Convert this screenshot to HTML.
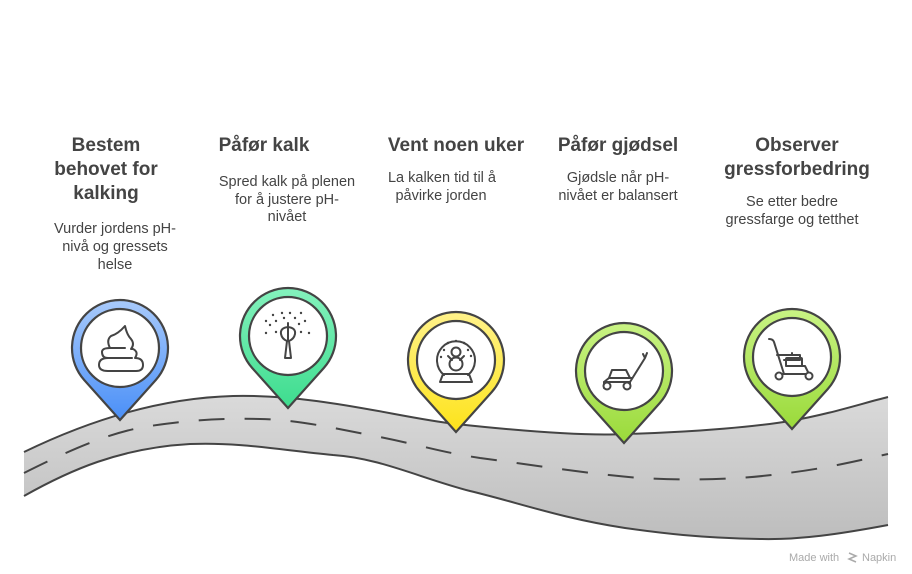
<!DOCTYPE html>
<html><head><meta charset="utf-8"><style>
html,body{margin:0;padding:0;background:#fff;}
svg{display:block}
text{font-family:"Liberation Sans",Arial,sans-serif;fill:#444}
.t{font-size:19px;font-weight:bold}
.d{font-size:14.5px}
</style></head><body>
<svg width="912" height="574" viewBox="0 0 912 574" xmlns="http://www.w3.org/2000/svg">
<defs>
<linearGradient id="road" x1="0" y1="0" x2="0" y2="1"><stop offset="0" stop-color="#dadada"/><stop offset="1" stop-color="#bdbdbd"/></linearGradient>
<linearGradient id="gb" x1="0" y1="0" x2="0" y2="1"><stop offset="0" stop-color="#a8cafb"/><stop offset="1" stop-color="#4a8ff7"/></linearGradient>
<linearGradient id="gg" x1="0" y1="0" x2="0" y2="1"><stop offset="0" stop-color="#84f2bd"/><stop offset="1" stop-color="#3ddc8e"/></linearGradient>
<linearGradient id="gy" x1="0" y1="0" x2="0" y2="1"><stop offset="0" stop-color="#fff28a"/><stop offset="1" stop-color="#fde31a"/></linearGradient>
<linearGradient id="gl" x1="0" y1="0" x2="0" y2="1"><stop offset="0" stop-color="#c9f384"/><stop offset="1" stop-color="#9ada3a"/></linearGradient>
<path id="pin" d="M0,72 L-35.8,32 A48,48 0 1 1 35.8,32 Z"/>
</defs>
<path d="M24,452 C90,420 160,398 233,396 C320,394 400,418 456,424 C530,432 590,436 625,434 C700,432 760,426 790,421 C830,414 860,404 888,397 L888,525 C840,534 800,540 760,539 C700,538 660,533 625,528 C560,518 520,503 470,491 C420,478 380,458 333,455 C280,450 240,442 190,444 C120,448 70,470 24,496 Z" fill="url(#road)"/>
<path d="M24,452 C90,420 160,398 233,396 C320,394 400,418 456,424 C530,432 590,436 625,434 C700,432 760,426 790,421 C830,414 860,404 888,397" fill="none" stroke="#444" stroke-width="2"/>
<path d="M24,496 C70,470 120,448 190,444 C240,442 280,450 333,455 C380,458 420,478 470,491 C520,503 560,518 625,528 C660,533 700,538 760,539 C800,540 840,534 888,525" fill="none" stroke="#444" stroke-width="2"/>
<path d="M24,473 C70,450 110,432 150,426 C190,420 220,418 260,419 C300,420 333,428 380,437 C420,445 440,452 480,458 C540,466 590,474 640,478 C700,481 740,479 780,474 C830,468 860,460 888,454" fill="none" stroke="#444" stroke-width="2" stroke-dasharray="26,20"/>
<g stroke="#444" stroke-width="2.2">
<use href="#pin" transform="translate(120,348)" fill="url(#gb)"/>
<circle cx="120" cy="348" r="39" fill="#fff"/>
<use href="#pin" transform="translate(288,336)" fill="url(#gg)"/>
<circle cx="288" cy="336" r="39" fill="#fff"/>
<use href="#pin" transform="translate(456,360)" fill="url(#gy)"/>
<circle cx="456" cy="360" r="39" fill="#fff"/>
<use href="#pin" transform="translate(624,371)" fill="url(#gl)"/>
<circle cx="624" cy="371" r="39" fill="#fff"/>
<use href="#pin" transform="translate(792,357)" fill="url(#gl)"/>
<circle cx="792" cy="357" r="39" fill="#fff"/>
</g>
<g fill="none" stroke="#444" stroke-width="2" stroke-linecap="round" stroke-linejoin="round">
<path d="M108,371 L136,371 Q143,371 143,365 Q143,358 135,358 Q139,352 133,349 L131,349 Q135,344 131,339 Q127,335 125,326 Q118,334 111,336 Q106,340 110,348 Q102,348 102,352 Q102,358 108,358 Q99,358 99,365 Q99,371 108,371 Z"/>
<path d="M110,348 L125,348 M108,358 L132,358"/>
<path d="M288,327 Q280,328 281,334 Q282,339 287,341 L289,341 Q294,339 295,334 Q296,328 288,327 Z M288,323 L288,341 M287,341 L285,358 L291,358 L289,341"/>
<g fill="#444" stroke="none">
<circle cx="273" cy="315" r="1.2"/><circle cx="282" cy="313" r="1.2"/><circle cx="290" cy="313" r="1.2"/><circle cx="301" cy="313" r="1.2"/>
<circle cx="266" cy="321" r="1.2"/><circle cx="276" cy="321" r="1.2"/><circle cx="284" cy="318" r="1.2"/><circle cx="295" cy="318" r="1.2"/><circle cx="305" cy="321" r="1.2"/>
<circle cx="270" cy="325" r="1.2"/><circle cx="299" cy="324" r="1.2"/><circle cx="266" cy="333" r="1.2"/><circle cx="276" cy="332" r="1.2"/><circle cx="301" cy="332" r="1.2"/><circle cx="309" cy="333" r="1.2"/>
</g>
<path d="M444,375 A19,19 0 1 1 468,375 M440,382 L443,374 L469,374 L472,382 Z"/>
<circle cx="456" cy="352" r="4.5"/><circle cx="456" cy="364" r="6.5"/><path d="M448,356 L452,360 M464,356 L460,360"/>
<g fill="#444" stroke="none"><circle cx="448" cy="343" r="1.2"/><circle cx="456" cy="341" r="1.2"/><circle cx="464" cy="343" r="1.2"/><circle cx="444" cy="350" r="1.2"/><circle cx="468" cy="350" r="1.2"/><circle cx="441" cy="357" r="1.2"/><circle cx="471" cy="356" r="1.2"/></g>
<path d="M609,378 L612,370 L626,370 L630,378 Z M604,388 L604,382 L630,382 L630,388 M630,382 L645,358 M643,354 L645,358 L647,353"/>
<path d="M604,382 L609,378 L632,378"/>
<circle cx="607" cy="386" r="3.5" fill="#fff"/><circle cx="627" cy="386" r="3.5" fill="#fff"/>
<path d="M769,339 Q773,339 774,342 L784,374 M777,355 L786,355 L785,355 M784,360 L800,360 L800,355 L786,355 M792,355 L792,353 M779,374 L809,374 L805,366 L786,366"/>
<rect x="786" y="358" width="16" height="8" rx="1"/>
<circle cx="779" cy="376" r="3.5" fill="#fff"/><circle cx="809" cy="376" r="3.5" fill="#fff"/>
</g>
<g text-anchor="middle">
<text class="t" x="106" y="151">Bestem</text>
<text class="t" x="106" y="175">behovet for</text>
<text class="t" x="106" y="199">kalking</text>
<text class="d" x="115" y="233">Vurder jordens pH-</text>
<text class="d" x="115" y="251">nivå og gressets</text>
<text class="d" x="115" y="269">helse</text>
<text class="t" x="264" y="151">Påfør kalk</text>
<text class="d" x="287" y="186">Spred kalk på plenen</text>
<text class="d" x="287" y="204">for å justere pH-</text>
<text class="d" x="287" y="221">nivået</text>
<text class="t" x="456" y="151">Vent noen uker</text>
<text class="d" x="442" y="182">La kalken tid til å</text>
<text class="d" x="441" y="200">påvirke jorden</text>
<text class="t" x="618" y="151">Påfør gjødsel</text>
<text class="d" x="618" y="182">Gjødsle når pH-</text>
<text class="d" x="618" y="200">nivået er balansert</text>
<text class="t" x="797" y="151">Observer</text>
<text class="t" x="797" y="175">gressforbedring</text>
<text class="d" x="792" y="206">Se etter bedre</text>
<text class="d" x="792" y="224">gressfarge og tetthet</text>
</g>
<text x="789" y="561" style="font-size:11px;fill:#aaa">Made with</text>
<text x="862" y="561" style="font-size:11px;fill:#aaa">Napkin</text>
<path d="M849,553 L856,556 L849,559 L856,562" fill="none" stroke="#aaa" stroke-width="1.5"/>
</svg>
</body></html>
